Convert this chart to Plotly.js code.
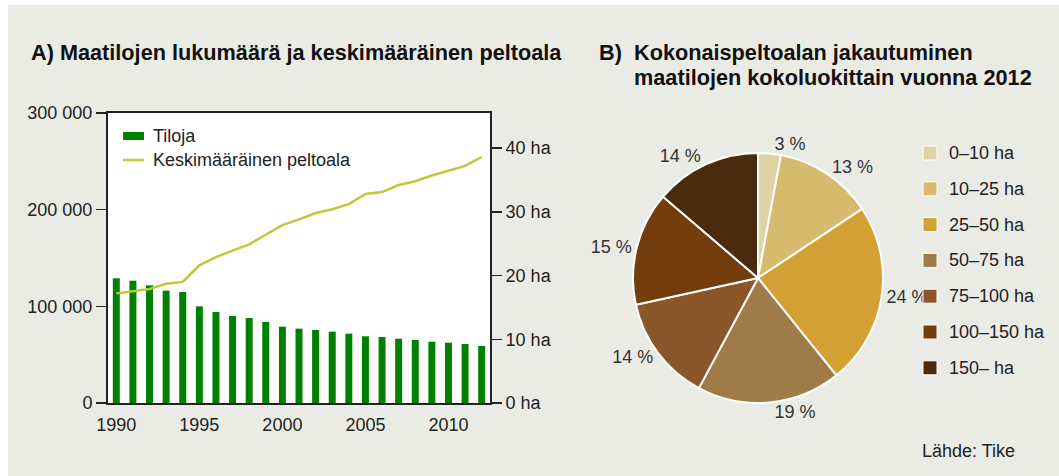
<!DOCTYPE html>
<html>
<head>
<meta charset="utf-8">
<script src="https://cdn.plot.ly/plotly-3.0.1.min.js"></script>
<style>
  html, body { margin: 0; padding: 0; background: #ffffff; }
  #bg { position: absolute; left: 8px; top: 5px; width: 1051px; height: 471px; background: #EBEBE6; }
  #chart { position: absolute; left: 0; top: 0; width: 1059px; height: 476px; }
</style>
</head>
<body>
<div id="bg"></div>
<div id="chart"></div>
<script>
// ---- Data ----
const years = [1990,1991,1992,1993,1994,1995,1996,1997,1998,1999,2000,2001,2002,2003,2004,2005,2006,2007,2008,2009,2010,2011,2012];
const farms = [129000,126500,121700,116200,114800,100000,94100,90000,87900,83800,79000,76900,75500,73800,71700,69000,68300,66500,65200,63400,62400,61000,59000];
const avgArea = [17.2,17.5,17.9,18.7,19.0,21.6,22.9,23.9,24.9,26.4,27.9,28.8,29.8,30.4,31.2,32.8,33.1,34.2,34.8,35.7,36.5,37.2,38.6];

const xTickVals = [1990,1995,2000,2005,2010];
const xTickText = ['1990','1995','2000','2005','2010'];
const leftTickVals = [0,100000,200000,300000];
const leftTickText = ['0','100 000','200 000','300 000'];
const rightTickVals = [0,10,20,30,40];
const rightTickText = ['0 ha','10 ha','20 ha','30 ha','40 ha'];

const seriesNames = ['Tiloja','Keskimääräinen peltoala'];

const sizeClasses = ['0–10 ha','10–25 ha','25–50 ha','50–75 ha','75–100 ha','100–150 ha','150– ha'];
const sharePct = [3,13,24,19,14,15,14];
const pieColors = ['#DED2A6','#D8BA6E','#D3A033','#9E7B47','#8B5629','#733D0D','#4A2B0E'];

const titleA = 'A) Maatilojen lukumäärä ja keskimääräinen peltoala';
const titleBPrefix = 'B)';
const titleBLines = ['Kokonaispeltoalan jakautuminen','maatilojen kokoluokittain vuonna 2012'];
const sourceText = 'Lähde: Tike';

// ---- Helpers (page px -> paper) ----
const W = 1059, H = 476;
const px = x => x / W;
const py = y => 1 - y / H;

const FONT = '"Liberation Sans", Arial, Helvetica, sans-serif';
const TXT = '#222222';
const GREEN = '#008000';
const LINEC = '#BFC73A';
const TITLE_SIZE = 21.7;

const traces = [
  {
    type: 'bar', x: years, y: farms, name: seriesNames[0],
    marker: { color: GREEN }, xaxis: 'x', yaxis: 'y', showlegend: false,
    hoverinfo: 'x+y'
  },
  {
    type: 'scatter', mode: 'lines', x: years, y: avgArea, name: seriesNames[1],
    line: { color: LINEC, width: 2.5 }, xaxis: 'x', yaxis: 'y2', showlegend: false
  },
  {
    type: 'pie', labels: sizeClasses, values: sharePct, sort: false,
    direction: 'clockwise', rotation: 0,
    text: sharePct.map(v => v + ' %'), textinfo: 'text', textposition: 'outside',
    textfont: { family: FONT, size: 18, color: '#333333' },
    marker: { colors: pieColors, line: { color: '#ffffff', width: 2 } },
    domain: { x: [px(633), px(883)], y: [py(403), py(153)] },
    showlegend: false, hoverinfo: 'label+text'
  }
];

const shapes = [];
const annotations = [];

// Left legend
shapes.push({ type: 'rect', xref: 'paper', yref: 'paper', x0: px(123), x1: px(144), y0: py(140), y1: py(132), fillcolor: GREEN, line: { width: 0 } });
shapes.push({ type: 'line', xref: 'paper', yref: 'paper', x0: px(123), x1: px(144), y0: py(160), y1: py(160), line: { color: LINEC, width: 2.5 } });
annotations.push({ xref: 'paper', yref: 'paper', x: px(151), y: py(136), xanchor: 'left', yanchor: 'middle', text: seriesNames[0], showarrow: false, font: { family: FONT, size: 18, color: TXT } });
annotations.push({ xref: 'paper', yref: 'paper', x: px(151), y: py(160), xanchor: 'left', yanchor: 'middle', text: seriesNames[1], showarrow: false, font: { family: FONT, size: 18, color: TXT } });

// Pie legend
sizeClasses.forEach((lab, i) => {
  const cy = 153 + i * 35.8;
  shapes.push({ type: 'rect', xref: 'paper', yref: 'paper', x0: px(923), x1: px(937), y0: py(cy + 7), y1: py(cy - 7), fillcolor: pieColors[i], line: { color: '#ffffff', width: 1 } });
  annotations.push({ xref: 'paper', yref: 'paper', x: px(947), y: py(cy), xanchor: 'left', yanchor: 'middle', text: lab, showarrow: false, font: { family: FONT, size: 18, color: TXT } });
});

// Titles
annotations.push({ xref: 'paper', yref: 'paper', x: px(29), y: py(52), xanchor: 'left', yanchor: 'middle', text: '<b>' + titleA + '</b>', showarrow: false, font: { family: FONT, size: TITLE_SIZE, color: '#111111' } });
annotations.push({ xref: 'paper', yref: 'paper', x: px(597), y: py(52), xanchor: 'left', yanchor: 'middle', text: '<b>' + titleBPrefix + '</b>', showarrow: false, font: { family: FONT, size: TITLE_SIZE, color: '#111111' } });
titleBLines.forEach((t, i) => {
  annotations.push({ xref: 'paper', yref: 'paper', x: px(632), y: py(52 + i * 26), xanchor: 'left', yanchor: 'middle', text: '<b>' + t + '</b>', showarrow: false, font: { family: FONT, size: TITLE_SIZE, color: '#111111' } });
});
annotations.push({ xref: 'paper', yref: 'paper', x: px(920), y: py(451), xanchor: 'left', yanchor: 'middle', text: sourceText, showarrow: false, font: { family: FONT, size: 18, color: TXT } });

const layout = {
  width: W, height: H,
  margin: { l: 0, r: 0, t: 0, b: 0, pad: 0 },
  paper_bgcolor: 'rgba(0,0,0,0)',
  plot_bgcolor: '#ffffff',
  font: { family: FONT, size: 18, color: TXT },
  bargap: 0.58,
  showlegend: false,
  xaxis: {
    domain: [px(108), px(490)],
    range: [1989.5, 2012.5],
    tickvals: xTickVals, ticktext: xTickText,
    ticks: 'outside', ticklen: 4, tickcolor: 'rgba(0,0,0,0)',
    showline: true, linecolor: '#222222', linewidth: 2, mirror: true,
    showgrid: false, zeroline: false,
    tickfont: { family: FONT, size: 18, color: TXT },
    anchor: 'y', fixedrange: true
  },
  yaxis: {
    domain: [py(403), py(113)],
    range: [0, 300000],
    tickvals: leftTickVals, ticktext: leftTickText,
    ticks: 'outside', ticklen: 10, tickwidth: 1.5, tickcolor: '#222222',
    showline: true, linecolor: '#222222', linewidth: 2,
    showgrid: false, zeroline: false,
    tickfont: { family: FONT, size: 18, color: TXT },
    anchor: 'x', fixedrange: true
  },
  yaxis2: {
    overlaying: 'y', side: 'right', anchor: 'x',
    range: [0, 45.5],
    tickvals: rightTickVals, ticktext: rightTickText,
    ticks: 'outside', ticklen: 10, tickwidth: 1.5, tickcolor: '#222222',
    showline: true, linecolor: '#222222', linewidth: 2,
    showgrid: false, zeroline: false,
    tickfont: { family: FONT, size: 18, color: TXT },
    fixedrange: true
  },
  shapes: shapes,
  annotations: annotations
};

Plotly.newPlot('chart', traces, layout, { displayModeBar: false, staticPlot: true });
</script>
</body>
</html>
